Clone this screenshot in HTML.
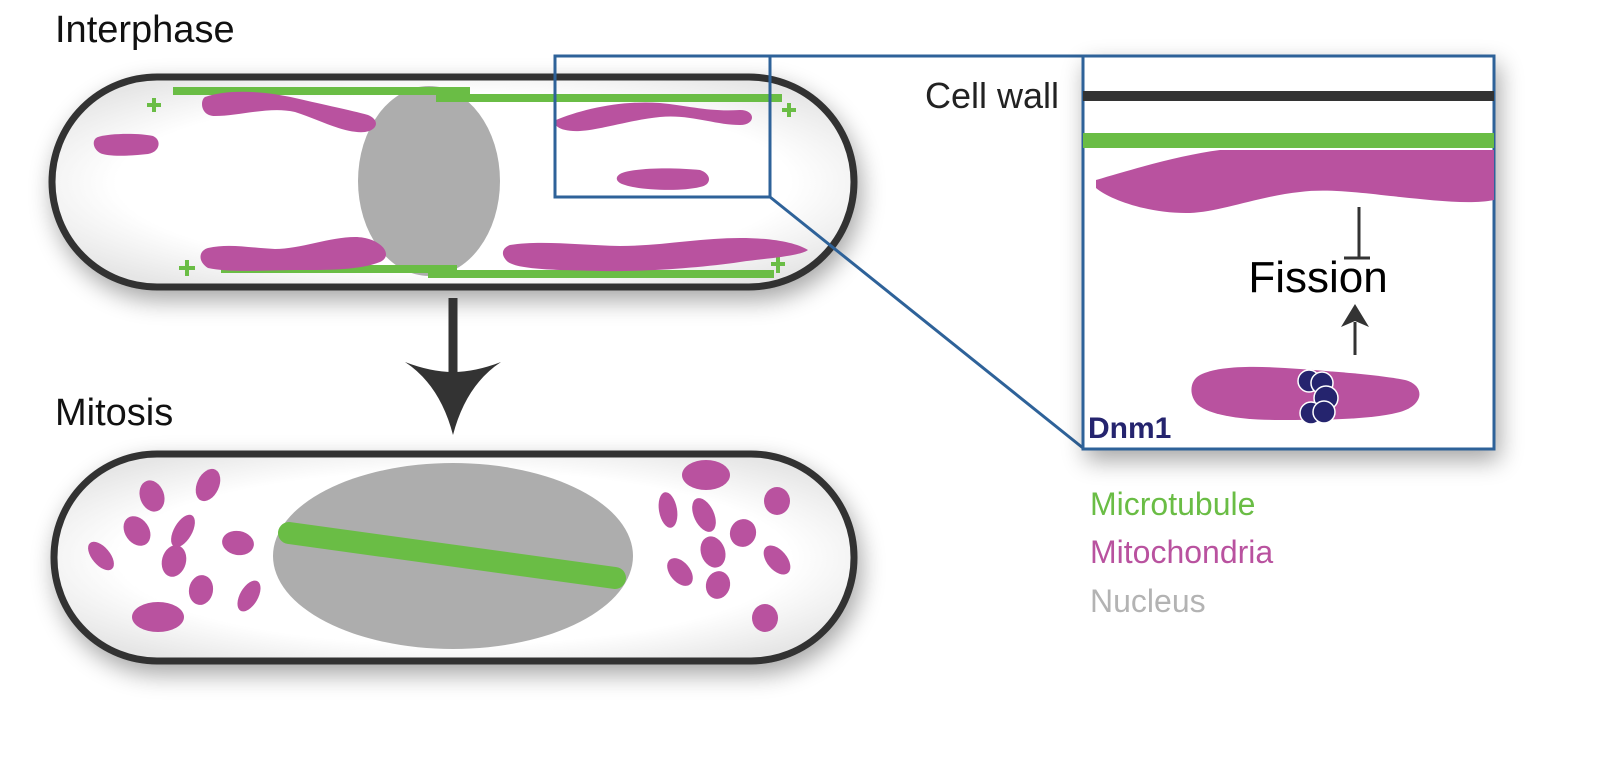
<!DOCTYPE html>
<html><head><meta charset="utf-8"><style>
html,body{margin:0;padding:0;background:#fff;}
svg{display:block;}
text{font-family:"Liberation Sans",Arial,sans-serif;}
</style></head><body>
<svg width="1617" height="760" viewBox="0 0 1617 760" xmlns="http://www.w3.org/2000/svg">
<defs>
<filter id="sh" x="-10%" y="-20%" width="120%" height="150%">
<feGaussianBlur in="SourceAlpha" stdDeviation="12"/>
<feOffset dx="4" dy="10" result="b"/>
<feComponentTransfer><feFuncA type="linear" slope="0.35"/></feComponentTransfer>
<feMerge><feMergeNode/><feMergeNode in="SourceGraphic"/></feMerge>
</filter>
<radialGradient id="cg" cx="50%" cy="50%" r="60%">
<stop offset="70%" stop-color="#fff"/><stop offset="100%" stop-color="#e6e6e6"/>
</radialGradient>
</defs>

<text x="55" y="42" font-size="38" fill="#111">Interphase</text>
<text x="55" y="425" font-size="38" fill="#111">Mitosis</text>

<rect x="52" y="77" width="802" height="210" rx="105" fill="url(#cg)" stroke="#333" stroke-width="7" filter="url(#sh)"/>
<ellipse cx="429" cy="181" rx="71" ry="95" fill="#adadad"/>
<g fill="#6abd45">
<rect x="173" y="87" width="297" height="8"/>
<rect x="436" y="94" width="346" height="8"/>
<rect x="221" y="265" width="236" height="8"/>
<rect x="428" y="270" width="346" height="8"/>
<rect x="152" y="98" width="4" height="14"/><rect x="147" y="103" width="14" height="4"/>
<rect x="787" y="103" width="4" height="14"/><rect x="782" y="108" width="14" height="4"/>
<rect x="185" y="260" width="4" height="16"/><rect x="179" y="266" width="16" height="4"/>
<rect x="776" y="255" width="4" height="18"/><rect x="771" y="262" width="14" height="4"/>
</g>
<g fill="#b9529f">
<path d="M205,97 C230,88 270,92 295,98 C325,105 350,110 368,115 C380,120 378,130 365,132 C345,134 320,120 295,112 C270,106 240,116 215,116 C200,116 200,100 205,97 Z"/>
<path d="M98,137 C110,133 140,133 153,136 C162,140 160,152 148,154 C130,156 108,157 100,153 C92,148 92,139 98,137 Z"/>
<path d="M556,120 C580,110 620,100 660,103 C690,106 710,112 740,110 C756,110 756,125 740,125 C715,125 690,114 660,117 C630,120 600,130 580,131 C560,132 552,125 556,120 Z"/>
<path d="M625,172 C645,167 680,168 700,170 C712,174 712,185 700,187 C680,192 640,190 625,185 C614,182 614,175 625,172 Z"/>
<path d="M208,248 C230,243 250,248 275,249 C300,249 330,237 355,237 C380,237 395,255 380,262 C360,270 330,270 300,270 C270,270 230,273 208,268 C198,262 198,251 208,248 Z"/>
<path d="M510,245 C540,240 580,245 620,246 C660,246 700,238 740,238 C770,238 795,242 808,250 C800,256 770,258 740,262 C700,268 640,272 600,271 C560,270 520,270 508,262 C500,255 502,248 510,245 Z"/>
</g>
<rect x="555" y="56" width="215" height="141" fill="none" stroke="#2e6299" stroke-width="3"/>
<line x1="770" y1="56" x2="1083" y2="56" stroke="#2e6299" stroke-width="3"/>
<line x1="770" y1="197" x2="1083" y2="448" stroke="#2e6299" stroke-width="3"/>

<line x1="453" y1="298" x2="453" y2="380" stroke="#333" stroke-width="9"/>
<path d="M405,362 Q440,385 453,435 Q466,385 501,362 Q475,372 453,372 Q431,372 405,362 Z" fill="#333"/>

<rect x="54" y="454" width="800" height="207" rx="103" fill="url(#cg)" stroke="#333" stroke-width="7" filter="url(#sh)"/>
<ellipse cx="453" cy="556" rx="180" ry="93" fill="#adadad"/>
<line x1="289" y1="533" x2="615" y2="578" stroke="#6abd45" stroke-width="22" stroke-linecap="round"/>
<g fill="#b9529f">
<ellipse cx="152" cy="496" rx="12" ry="16" transform="rotate(-20 152 496)"/>
<ellipse cx="208" cy="485" rx="11" ry="17" transform="rotate(25 208 485)"/>
<ellipse cx="137" cy="531" rx="12" ry="16" transform="rotate(-35 137 531)"/>
<ellipse cx="183" cy="531" rx="9" ry="18" transform="rotate(30 183 531)"/>
<ellipse cx="238" cy="543" rx="16" ry="12" transform="rotate(10 238 543)"/>
<ellipse cx="101" cy="556" rx="9" ry="17" transform="rotate(-40 101 556)"/>
<ellipse cx="174" cy="561" rx="12" ry="16" transform="rotate(15 174 561)"/>
<ellipse cx="201" cy="590" rx="12" ry="15" transform="rotate(10 201 590)"/>
<ellipse cx="249" cy="596" rx="9" ry="17" transform="rotate(30 249 596)"/>
<ellipse cx="158" cy="617" rx="26" ry="15"/>
<ellipse cx="706" cy="475" rx="24" ry="15"/>
<ellipse cx="777" cy="501" rx="13" ry="14"/>
<ellipse cx="668" cy="510" rx="9" ry="18" transform="rotate(-10 668 510)"/>
<ellipse cx="704" cy="515" rx="10" ry="18" transform="rotate(-25 704 515)"/>
<ellipse cx="743" cy="533" rx="13" ry="14" transform="rotate(20 743 533)"/>
<ellipse cx="713" cy="552" rx="12" ry="16" transform="rotate(-20 713 552)"/>
<ellipse cx="680" cy="572" rx="10" ry="16" transform="rotate(-40 680 572)"/>
<ellipse cx="777" cy="560" rx="10" ry="17" transform="rotate(-40 777 560)"/>
<ellipse cx="718" cy="585" rx="12" ry="14" transform="rotate(15 718 585)"/>
<ellipse cx="765" cy="618" rx="13" ry="14"/>
</g>

<rect x="1083" y="56" width="411" height="393" fill="#fff" stroke="#2e6299" stroke-width="3" filter="url(#sh)"/>
<text x="925" y="108" font-size="36" fill="#222">Cell wall</text>
<rect x="1083" y="91" width="411" height="10" fill="#333"/>
<rect x="1083" y="133" width="411" height="15" fill="#6abd45"/>
<path d="M1096,180 C1130,170 1180,155 1220,150 L1494,150 L1494,200 C1470,205 1430,200 1400,197 C1370,194 1330,188 1300,192 C1260,196 1220,212 1190,213 C1150,214 1110,200 1096,188 Z" fill="#b9529f"/>
<line x1="1359" y1="207" x2="1359" y2="258" stroke="#333" stroke-width="3"/>
<line x1="1344" y1="258" x2="1370" y2="258" stroke="#333" stroke-width="3"/>
<text x="1318" y="292" font-size="44" fill="#000" text-anchor="middle">Fission</text>
<line x1="1355" y1="355" x2="1355" y2="322" stroke="#333" stroke-width="3"/>
<path d="M1341,327 L1355,304 L1369,327 L1355,321 Z" fill="#333"/>
<path d="M1200,375 C1220,365 1260,366 1300,369 C1340,372 1380,375 1405,380 C1425,385 1425,405 1400,412 C1370,420 1320,420 1280,420 C1240,420 1210,415 1198,405 C1188,395 1190,380 1200,375 Z" fill="#b9529f"/>
<g fill="#25246e" stroke="#fff" stroke-width="1.5">
<circle cx="1309" cy="381" r="11"/>
<circle cx="1322" cy="383" r="11"/>
<circle cx="1326" cy="398" r="12"/>
<circle cx="1311" cy="413" r="11"/>
<circle cx="1324" cy="412" r="11"/>
</g>
<text x="1088" y="438" font-size="30" font-weight="bold" fill="#25246e">Dnm1</text>

<text x="1090" y="515" font-size="32" fill="#6abd45">Microtubule</text>
<text x="1090" y="563" font-size="32" fill="#b9529f">Mitochondria</text>
<text x="1090" y="612" font-size="32" fill="#b3b3b3">Nucleus</text>
</svg>
</body></html>
